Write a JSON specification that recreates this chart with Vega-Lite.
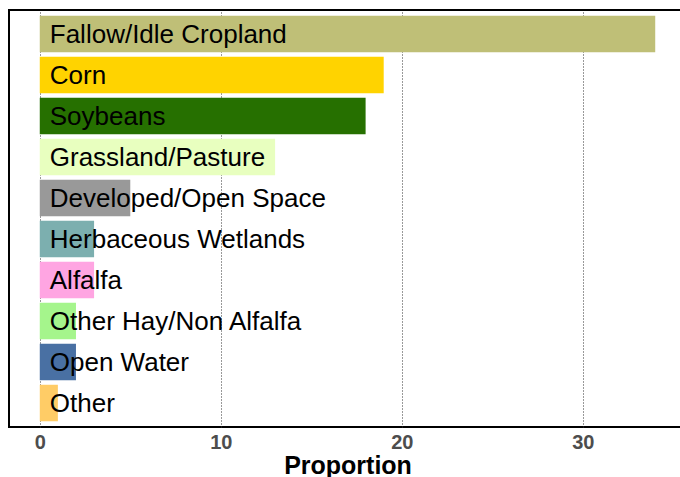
{
  "$schema": "https://vega.github.io/schema/vega-lite/v6.json",
  "autosize": "none",
  "padding": {"left": 9, "top": 10, "right": 0, "bottom": 50},
  "width": 677,
  "height": 417,
  "background": "white",
  "config": {
    "view": {"stroke": "black", "strokeWidth": 2},
    "font": "Liberation Sans"
  },
  "data": {
    "values": [
      {"crop": "Fallow/Idle Cropland", "value": 34, "color": "#BFBF77"},
      {"crop": "Corn", "value": 19, "color": "#FFD300"},
      {"crop": "Soybeans", "value": 18, "color": "#267000"},
      {"crop": "Grassland/Pasture", "value": 13, "color": "#E8FFBF"},
      {"crop": "Developed/Open Space", "value": 5, "color": "#999999"},
      {"crop": "Herbaceous Wetlands", "value": 3, "color": "#7CAFAF"},
      {"crop": "Alfalfa", "value": 3, "color": "#FFA5E2"},
      {"crop": "Other Hay/Non Alfalfa", "value": 2, "color": "#A5F58C"},
      {"crop": "Open Water", "value": 2, "color": "#4970A3"},
      {"crop": "Other", "value": 1, "color": "#FFCC66"}
    ]
  },
  "encoding": {
    "y": {
      "field": "crop",
      "type": "nominal",
      "sort": null,
      "scale": {"paddingInner": 0.11, "paddingOuter": 0.14},
      "axis": null
    }
  },
  "layer": [
    {
      "mark": {"type": "bar"},
      "encoding": {
        "x": {
          "field": "value",
          "type": "quantitative",
          "scale": {"domain": [-1.7, 35.7], "nice": false, "zero": false},
          "axis": {
            "values": [0, 10, 20, 30],
            "title": "Proportion",
            "titleFontSize": 25,
            "titleFontWeight": "bold",
            "titleColor": "black",
            "titlePadding": 1,
            "labelFontSize": 20,
            "labelFontWeight": "bold",
            "labelColor": "#4D4D4D",
            "labelPadding": 5,
            "domain": false,
            "ticks": false,
            "grid": true,
            "gridColor": "#333333",
            "gridDash": [1, 2],
            "gridWidth": 1,
            "zindex": 0
          }
        },
        "x2": {"datum": 0},
        "color": {"field": "color", "type": "nominal", "scale": null}
      }
    },
    {
      "mark": {"type": "text", "align": "left", "baseline": "middle", "dx": 10, "dy": 1, "fontSize": 26, "color": "black"},
      "encoding": {
        "x": {"datum": 0},
        "text": {"field": "crop"}
      }
    }
  ]
}
